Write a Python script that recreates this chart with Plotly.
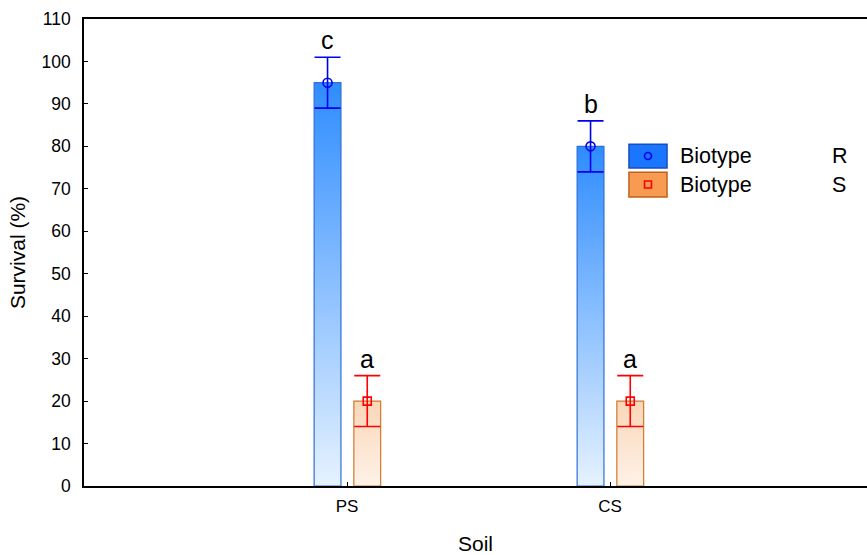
import plotly.graph_objects as go

# ---- data ----
soils = ["PS", "CS"]
soil_pos = [1, 2]
biotype_R = [95, 80]
biotype_R_err = [6, 6]
biotype_S = [20, 20]
biotype_S_err = [6, 6]
letters_R = ["c", "b"]
letters_S = ["a", "a"]
y_ticks = list(range(0, 111, 10))

FONT = "Liberation Sans, Arial, Helvetica, sans-serif"
BAR_W = 0.102
OFF_R = -0.074
OFF_S = 0.077

fig = go.Figure()


def add_bars(values, offset, top_col, bot_col, line_col):
    for p, v in zip(soil_pos, values):
        x0, x1 = p + offset - BAR_W / 2, p + offset + BAR_W / 2
        fig.add_trace(go.Scatter(
            x=[x0, x1, x1, x0, x0], y=[0, 0, v, v, 0],
            mode="lines", fill="toself",
            fillgradient=dict(type="vertical",
                              colorscale=[[0, bot_col], [1, top_col]]),
            line=dict(color=line_col, width=1.2),
            hoverinfo="skip", showlegend=False))


add_bars(biotype_R, OFF_R, "#2E8CFF", "#E6F2FF", "#2F6FD6")
add_bars(biotype_S, OFF_S, "#FAD6B8", "#FEF2E8", "#D0782E")

# error bars + means
fig.add_trace(go.Scatter(
    x=[p + OFF_R for p in soil_pos], y=biotype_R, mode="markers",
    marker=dict(symbol="circle-open", size=9, color="#0000F0",
                line=dict(width=1.6, color="#0000F0")),
    error_y=dict(type="data", array=biotype_R_err, visible=True,
                 color="#0000F0", thickness=1.6, width=13),
    showlegend=False, hoverinfo="skip"))
fig.add_trace(go.Scatter(
    x=[p + OFF_S for p in soil_pos], y=biotype_S, mode="markers",
    marker=dict(symbol="square-open", size=8, color="#FF0000",
                line=dict(width=1.6, color="#FF0000")),
    error_y=dict(type="data", array=biotype_S_err, visible=True,
                 color="#FF0000", thickness=1.6, width=13),
    showlegend=False, hoverinfo="skip"))

annotations = []
for p, v, e, t in zip(soil_pos, biotype_R, biotype_R_err, letters_R):
    annotations.append(dict(x=p + OFF_R, y=v + e, text=t, showarrow=False,
                            yanchor="bottom", yshift=1,
                            font=dict(family=FONT, size=25, color="black")))
for p, v, e, t in zip(soil_pos, biotype_S, biotype_S_err, letters_S):
    annotations.append(dict(x=p + OFF_S, y=v + e, text=t, showarrow=False,
                            yanchor="bottom", yshift=1,
                            font=dict(family=FONT, size=25, color="black")))

# legend (manual)
shapes = []
leg = [
    ("Biotype", "R", "#1A75FF", "#1450C0", "circle", "#0000F0", 0.732, 0.681),
    ("Biotype", "S", "#F79A52", "#C0601C", "rect", "#FF0000", 0.672, 0.619),
]
for name, lvl, fc, lc, sym, mc, y1, y0 in leg:
    shapes.append(dict(type="rect", xref="paper", yref="paper",
                       x0=0.696, x1=0.7446, y0=y0, y1=y1,
                       fillcolor=fc, line=dict(color=lc, width=1.5)))
    ym = (y0 + y1) / 2
    shapes.append(dict(type=sym, xref="paper", yref="paper",
                       xsizemode="pixel", ysizemode="pixel",
                       xanchor=0.7203, yanchor=ym,
                       x0=-3.5, x1=3.5, y0=-3.5, y1=3.5,
                       line=dict(color=mc, width=1.6)))
    annotations.append(dict(x=0.7586, y=ym, xref="paper", yref="paper",
                            text=name, showarrow=False, xanchor="left",
                            yanchor="middle",
                            font=dict(family=FONT, size=21.5, color="black")))
    annotations.append(dict(x=0.953, y=ym, xref="paper", yref="paper",
                            text=lvl, showarrow=False, xanchor="left",
                            yanchor="middle",
                            font=dict(family=FONT, size=21.5, color="black")))

fig.update_layout(
    width=867, height=555,
    margin=dict(l=84, r=0, t=19, b=69),
    plot_bgcolor="white", paper_bgcolor="white",
    font=dict(family=FONT, size=17, color="black"),
    annotations=annotations, shapes=shapes,
    xaxis=dict(range=[0, 783 / 263], tickvals=soil_pos, ticktext=soils,
               showgrid=False, zeroline=False, showline=True, mirror=True,
               linecolor="black", linewidth=1.5, ticks="inside", ticklen=4,
               tickcolor="black", tickfont=dict(size=17),
               ticklabelstandoff=4,
               title=dict(text="Soil", font=dict(size=21), standoff=23)),
    yaxis=dict(range=[0, 110], tickvals=y_ticks, showgrid=False,
               zeroline=False, showline=True, linecolor="black",
               linewidth=1.5, ticks="inside", ticklen=4, tickcolor="black",
               tickfont=dict(size=17.5), ticklabelstandoff=8,
               title=dict(text="Survival (%)", font=dict(size=21),
                          standoff=10)),
)

fig.write_html("out.html")
